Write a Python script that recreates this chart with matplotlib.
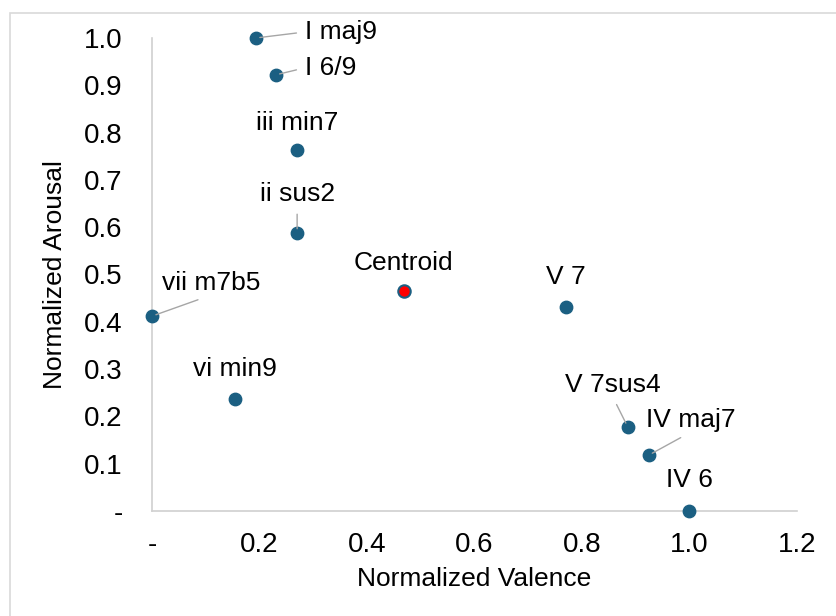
"""
plot.py — Gráfico de dispersão valência x excitação (acordes normalizados).
"""

import matplotlib
matplotlib.use("Agg")
import matplotlib.pyplot as plt
from matplotlib.patches import Rectangle
from matplotlib.ticker import FuncFormatter


# ─────────────────────────────────────────────
# DADOS
# ─────────────────────────────────────────────

acordes = ["I maj9", "I 6/9", "iii min7", "ii sus2", "vii m7b5",
           "vi min9", "V 7", "V 7sus4", "IV maj7", "IV 6"]
valencia = [0.193, 0.230, 0.270, 0.270, 0.0, 0.154, 0.770, 0.885, 0.924, 1.0]
excitacao = [1.0, 0.922, 0.763, 0.588, 0.412, 0.237, 0.431, 0.178, 0.118, 0.0]

centroide_x = [0.468]
centroide_y = [0.465]

x_ticks = [0.0, 0.2, 0.4, 0.6, 0.8, 1.0, 1.2]
y_ticks = [0.0, 0.1, 0.2, 0.3, 0.4, 0.5, 0.6, 0.7, 0.8, 0.9, 1.0]

# deslocamento do rótulo (pixels), alinhamento, linha guia, ponto de saída
rotulos = {
    "I maj9":   ((49, 6), "left", True, (0.0, 0.5)),
    "I 6/9":    ((29, 7), "left", True, (0.0, 0.5)),
    "iii min7": ((0, 27), "center", False, None),
    "ii sus2":  ((0, 39), "center", True, (0.5, 0.0)),
    "vii m7b5": ((59, 33), "center", True, (0.5, 0.0)),
    "vi min9":  ((0, 30), "center", False, None),
    "V 7":      ((0, 30), "center", False, None),
    "V 7sus4":  ((-15, 42), "center", True, (0.5, 0.0)),
    "IV maj7":  ((42, 35), "center", True, (0.5, 0.0)),
    "IV 6":     ((0, 31), "center", False, None),
}

AZUL = "#1b5f82"
FONTE = "Liberation Sans"
TAM_ROTULO = 19
TAM_EIXO = 20


# ─────────────────────────────────────────────
# GRÁFICO
# ─────────────────────────────────────────────

plt.rcParams["font.family"] = [FONTE, "DejaVu Sans"]

fig = plt.figure(figsize=(8.37, 6.16), dpi=100)
ax = fig.add_axes([152 / 837, 105 / 616, 645 / 837, 473 / 616])

# borda clara em volta da figura
fig.patches.append(Rectangle((10 / 837, -0.05), 1.1, 1.05 - 13 / 616,
                             transform=fig.transFigure, fill=False,
                             edgecolor="#d9d9d9", linewidth=1.2))

ax.scatter(valencia, excitacao, s=80, color=AZUL, zorder=3, clip_on=False)
ax.scatter(centroide_x, centroide_y, s=80, color="red", edgecolor=AZUL,
           linewidth=1.5, zorder=3, clip_on=False)

for nome, x, y in zip(acordes, valencia, excitacao):
    (dx, dy), ha, linha, rel = rotulos[nome]
    setas = None
    if linha:
        setas = dict(arrowstyle="-", color="#a6a6a6", linewidth=1.0,
                     shrinkA=4, shrinkB=3, relpos=rel)
    ax.annotate(nome, (x, y), xytext=(dx, dy), textcoords="offset pixels",
                ha=ha, va="center", fontsize=TAM_ROTULO, color="black",
                arrowprops=setas, annotation_clip=False)

ax.annotate("Centroid", (centroide_x[0], centroide_y[0]), xytext=(0, 28),
            textcoords="offset pixels", ha="center", va="center",
            fontsize=TAM_ROTULO, annotation_clip=False)

ax.set_xlim(0, 1.2)
ax.set_ylim(0, 1.0)
ax.set_xticks(x_ticks)
ax.set_yticks(y_ticks)

fmt = FuncFormatter(lambda v, p: "-" if abs(v) < 1e-9 else f"{v:.1f}")
ax.xaxis.set_major_formatter(fmt)
ax.yaxis.set_major_formatter(fmt)
ax.tick_params(length=0, labelsize=TAM_EIXO)
ax.tick_params(axis="y", pad=21)
ax.tick_params(axis="x", pad=15)

for lado in ["top", "right"]:
    ax.spines[lado].set_visible(False)
for lado in ["left", "bottom"]:
    ax.spines[lado].set_color("#d0d0d0")
    ax.spines[lado].set_linewidth(1.2)

ax.set_xlabel("Normalized Valence", fontsize=TAM_ROTULO)
ax.set_ylabel("Normalized Arousal", fontsize=TAM_ROTULO)
ax.xaxis.set_label_coords(0.5, -0.118)
ax.yaxis.set_label_coords(-0.132, 0.5)

fig.savefig("out.png", dpi=100)
